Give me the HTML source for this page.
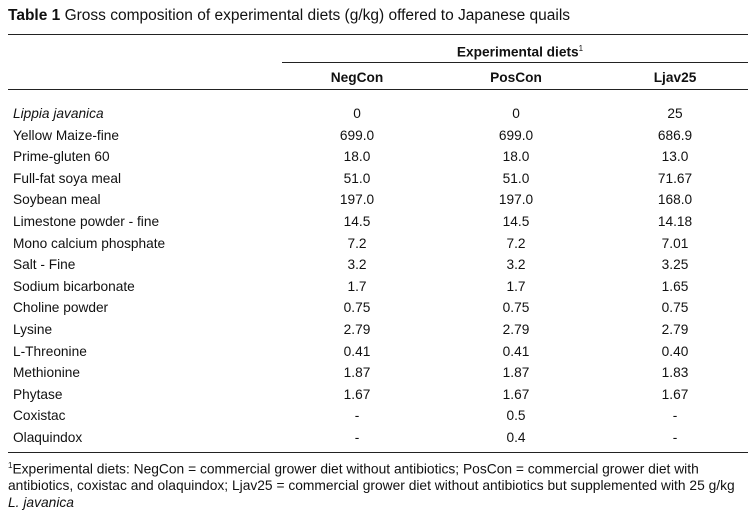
<!DOCTYPE html>
<html><head><meta charset="utf-8"><style>
body{margin:0;background:#fff;width:748px;height:517px;overflow:hidden;font-family:"Liberation Sans",Arial,sans-serif;color:#111;position:relative}
.a{position:absolute;white-space:nowrap;font-size:13.7px;line-height:15px}
.c{transform:translateX(-50%)}
.l{position:absolute;height:1px;background:#222}
</style></head><body>
<div class="a" style="left:8px;top:7px;font-size:15.5px;line-height:18px"><b>Table 1</b> Gross composition of experimental diets (g/kg) offered to Japanese quails</div>
<div class="l" style="left:8px;width:740px;top:34px"></div>
<div class="a c" style="left:520px;top:41px"><b>Experimental diets</b><sup style="font-size:8px">1</sup></div>
<div class="l" style="left:282px;width:466px;top:62px"></div>
<div class="a c" style="left:357px;top:70px"><b>NegCon</b></div>
<div class="a c" style="left:516px;top:70px"><b>PosCon</b></div>
<div class="a c" style="left:675px;top:70px"><b>Ljav25</b></div>
<div class="l" style="left:8px;width:740px;top:89px"></div>
<div id="rows"></div>
<div class="l" style="left:8px;width:740px;top:452px"></div>
<div class="a" style="left:8px;top:458px;line-height:16.5px;font-size:13.8px"><sup style="font-size:8px">1</sup>Experimental diets: NegCon = commercial grower diet without antibiotics; PosCon = commercial grower diet with<br>antibiotics, coxistac and olaquindox; Ljav25 = commercial grower diet without antibiotics but supplemented with 25 g/kg<br><i>L. javanica</i></div>
<script>
const ingredients=["Lippia javanica","Yellow Maize-fine","Prime-gluten 60","Full-fat soya meal","Soybean meal","Limestone powder - fine","Mono calcium phosphate","Salt - Fine","Sodium bicarbonate","Choline powder","Lysine","L-Threonine","Methionine","Phytase","Coxistac","Olaquindox"];
const negcon=["0","699.0","18.0","51.0","197.0","14.5","7.2","3.2","1.7","0.75","2.79","0.41","1.87","1.67","-","-"];
const poscon=["0","699.0","18.0","51.0","197.0","14.5","7.2","3.2","1.7","0.75","2.79","0.41","1.87","1.67","0.5","0.4"];
const ljav25=["25","686.9","13.0","71.67","168.0","14.18","7.01","3.25","1.65","0.75","2.79","0.40","1.83","1.67","-","-"];
const host=document.getElementById('rows');
ingredients.forEach((n,i)=>{
  const y=106+i*21.6;
  const d=document.createElement('div');d.className='a';d.style.left='13px';d.style.top=y+'px';
  
  
  if(i===0)d.innerHTML='<i>'+n+'</i>';else d.textContent=n;host.appendChild(d);
  [[negcon,357],[poscon,516],[ljav25,675]].forEach(([arr,x])=>{
    const c=document.createElement('div');c.className='a c';c.style.left=x+'px';c.style.top=y+'px';c.textContent=arr[i];
    
    
    host.appendChild(c);
  });
});
</script>
</body></html>
